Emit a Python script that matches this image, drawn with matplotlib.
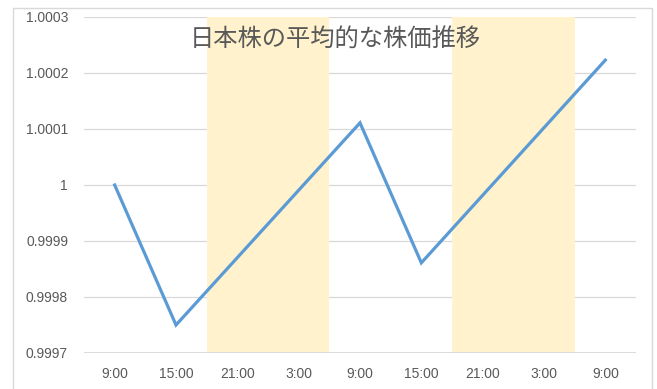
import matplotlib
matplotlib.use("Agg")
import matplotlib.pyplot as plt
from matplotlib.patches import Rectangle
import numpy as np

# chart data
categories = ["9:00", "15:00", "21:00", "3:00", "9:00", "15:00", "21:00", "3:00", "9:00"]
price = [1.0, 0.99975, None, None, 1.000111, 0.999861, None, None, 1.000223]
night = [0, 0, 1, 1, 0, 0, 1, 1, 0]  # overnight hours shaded
y_ticks = [0.9997, 0.9998, 0.9999, 1.0, 1.0001, 1.0002, 1.0003]
y_labels = ["0.9997", "0.9998", "0.9999", "1", "1.0001", "1.0002", "1.0003"]
title = "日本株の平均的な株価推移"

W, H = 657, 389
TEXT = "#595959"
GRID = "#D9D9D9"

plt.rcParams["font.family"] = ["Liberation Sans", "DejaVu Sans"]

fig = plt.figure(figsize=(W / 100, H / 100), dpi=100)
fig.patches.append(
    Rectangle((12.5 / W, -0.02), 639.5 / W, 1 - 7.5 / H + 0.02,
              transform=fig.transFigure, fill=False, edgecolor=GRID, linewidth=1.0)
)
ax = fig.add_axes([84 / W, 1 - 353 / H, (636 - 84) / W, (353 - 17) / H])

x = np.arange(len(categories))
ymin, ymax = y_ticks[0], y_ticks[-1]

# shaded bands (bar series with no gap)
band_h = [(ymax - ymin) if n else 0 for n in night]
ax.bar(x, band_h, bottom=ymin, width=1.0, color="#FFF2CC", linewidth=0, zorder=1)

# price line through available points
pts = [(i, v) for i, v in enumerate(price) if v is not None]
ax.plot([p[0] for p in pts], [p[1] for p in pts], color="#5B9BD5", linewidth=2.3,
        solid_joinstyle="miter", zorder=3)

ax.set_xlim(-0.5, len(categories) - 0.5)
ax.set_ylim(ymin, ymax)
ax.set_yticks(y_ticks)
ax.set_yticklabels(y_labels)
ax.set_xticks(x)
ax.set_xticklabels(categories)
ax.tick_params(axis="both", length=0, labelsize=10, labelcolor=TEXT)
ax.tick_params(axis="y", pad=11.5)
ax.tick_params(axis="x", pad=10)

for t in y_ticks[1:]:
    ax.axhline(t, color=GRID, linewidth=0.9, zorder=0)
ax.axhline(ymin, color=GRID, linewidth=1.3, zorder=2)
for s in ax.spines.values():
    s.set_visible(False)

fig.text(335 / W, 1 - 40 / H, title, ha="center", va="center", fontsize=17.5,
         color=TEXT, family=["Noto Sans CJK JP", "DejaVu Sans"], zorder=5)

fig.savefig("out.png", dpi=100)
